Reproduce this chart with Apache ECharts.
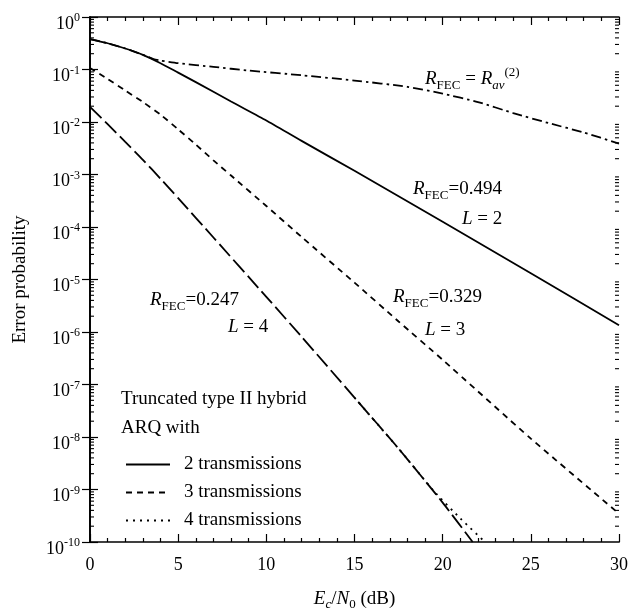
<!DOCTYPE html>
<html><head><meta charset="utf-8">
<script src="https://cdn.jsdelivr.net/npm/echarts@6/dist/echarts.min.js"></script>
<style>html,body{margin:0;padding:0;background:#fff}#c{width:630px;height:612px}</style>
</head><body><div id="c"></div>
<script>
// ---- data (y stored as log10 of error probability) ----
const xTickLabels = ['0','5','10','15','20','25','30'];
const yTickExponents = [0,-1,-2,-3,-4,-5,-6,-7,-8,-9,-10];

// 2 transmissions, R_FEC = 0.494, L = 2 (solid)
const solidX   = [0, 1, 2, 3, 4, 5, 6, 8, 10, 12, 15, 20, 25, 30];
const solidExp = [-0.42, -0.50, -0.60, -0.72, -0.88, -1.06, -1.24, -1.61, -1.97, -2.36, -2.93, -3.90, -4.88, -5.87];

// R_FEC = R_av(2) (dash-dot)
const avX   = [0, 1, 2, 3, 3.6, 4, 5, 7, 9, 12, 15, 18, 20, 22, 24, 26, 28, 30];
const avExp = [-0.42, -0.50, -0.60, -0.72, -0.80, -0.83, -0.88, -0.95, -1.02, -1.11, -1.21, -1.33, -1.46, -1.62, -1.83, -2.02, -2.20, -2.41];

// 3 transmissions, R_FEC = 0.329, L = 3 (dashed)
const dashX   = [0, 1, 2, 3, 4, 5, 6, 7, 8, 10, 12, 15, 17.5, 20, 25, 30];
const dashExp = [-0.97, -1.18, -1.40, -1.62, -1.86, -2.14, -2.43, -2.73, -3.02, -3.60, -4.19, -5.06, -5.80, -6.53, -8.03, -9.46];

// R_FEC = 0.247, L = 4 (long dash)
const longX   = [0, 1, 2, 3, 4, 5, 7, 10, 12, 15, 17.5, 20, 21.7];
const longExp = [-1.71, -2.04, -2.38, -2.72, -3.08, -3.45, -4.20, -5.33, -6.09, -7.25, -8.22, -9.25, -10.0];

// 4 transmissions (dotted, visible where it separates from the long dash)
const dotX   = [15, 17.5, 19.5, 21, 22.4];
const dotExp = [-7.25, -8.22, -9.03, -9.55, -10.0];

const F = 'Liberation Serif';
const toPts = (xs, es) => xs.map((x, i) => [x, Math.pow(10, es[i])]);

const yMinor = [];
for (let i = 1; i < yTickExponents.length; i++) {
  const e = yTickExponents[i];
  for (let m = 2; m <= 9; m++) yMinor.push([0, m * Math.pow(10, e)]);
}

const axisLine = {show: true, lineStyle: {color: '#000', width: 1.7}};
const tickStyle = {color: '#000', width: 1.2};
const richLab = {
  b: {fontFamily: F, fontSize: 18, color: '#000', lineHeight: 24},
  s: {fontFamily: F, fontSize: 12, color: '#000', verticalAlign: 'top'}
};
function yLab(v) {
  const e = Math.round(Math.log10(v));
  return '{b|10}{s|' + e + '}';
}
function mkY(pos, labels) {
  return {
    type: 'log', logBase: 10, min: 1e-10, max: 1, interval: 1, position: pos,
    axisLine: axisLine, splitLine: {show: false},
    axisTick: {show: true, inside: true, length: 8, lineStyle: tickStyle},
    axisLabel: {show: labels, formatter: yLab, rich: richLab, margin: 10, padding: [14, 0, 0, 0]}
  };
}
function mkX(pos, labels) {
  return {
    type: 'value', min: 0, max: 30, interval: 5, position: pos,
    axisLine: axisLine, splitLine: {show: false},
    axisTick: {show: true, inside: true, length: 8, lineStyle: tickStyle},
    minorTick: {show: true, splitNumber: 5, length: 4, lineStyle: tickStyle},
    axisLabel: {show: labels, fontFamily: F, fontSize: 18, color: '#000', margin: 14,
      formatter: v => xTickLabels[Math.round(v / 5)]}
  };
}
const xa0 = mkX('bottom', true);
xa0.name = '{i|E}{si|c}{n|/}{i|N}{s|0}{n| (dB)}';
xa0.nameLocation = 'middle';
xa0.nameGap = 45;
xa0.nameTextStyle = {rich: {
  i: {fontFamily: F, fontStyle: 'italic', fontSize: 19, color: '#000', lineHeight: 24},
  n: {fontFamily: F, fontSize: 19, color: '#000', lineHeight: 24},
  si: {fontFamily: F, fontStyle: 'italic', fontSize: 13, color: '#000', verticalAlign: 'bottom'},
  s: {fontFamily: F, fontSize: 13, color: '#000', verticalAlign: 'bottom'}
}};
const ya0 = mkY('left', true);
ya0.name = 'Error probability';
ya0.nameLocation = 'middle';
ya0.nameGap = 60;
ya0.nameTextStyle = {fontFamily: F, fontSize: 19, color: '#000'};

const rich = {
  i: {fontFamily: F, fontStyle: 'italic', fontSize: 19, color: '#000', lineHeight: 26},
  n: {fontFamily: F, fontSize: 19, color: '#000', lineHeight: 26},
  sub: {fontFamily: F, fontSize: 13, color: '#000', verticalAlign: 'bottom'},
  subi: {fontFamily: F, fontStyle: 'italic', fontSize: 13, color: '#000', verticalAlign: 'bottom'},
  sup: {fontFamily: F, fontSize: 13, color: '#000', verticalAlign: 'top'}
};
function txt(x, y, t) {
  return {type: 'text', x: x, y: y, style: {text: t, rich: rich, verticalAlign: 'middle', align: 'left'}};
}

const lineBase = (name, pts, type, z) => ({
  name: name, type: 'line', data: pts, showSymbol: false, symbol: 'none',
  smooth: 0.2, clip: true, z: z || 2, xAxisIndex: 0, yAxisIndex: 0,
  lineStyle: {color: '#000', width: 1.8, type: type}, itemStyle: {color: '#000'},
  emphasis: {disabled: true}
});

const chart = echarts.init(document.getElementById('c'));
chart.setOption({
  animation: false,
  backgroundColor: '#fff',
  grid: {left: 90, right: 11, top: 17, bottom: 70, containLabel: false, outerBoundsMode: 'none'},
  xAxis: [xa0, mkX('top', false)],
  yAxis: [ya0, mkY('right', false)],
  legend: {
    data: ['2 transmissions', '3 transmissions', '4 transmissions'],
    orient: 'vertical', left: 120, top: 450, itemWidth: 44, itemHeight: 14, itemGap: 9,
    selectedMode: false,
    itemStyle: {opacity: 0},
    textStyle: {fontFamily: F, fontSize: 19, color: '#000', padding: [0, 0, 0, 9]}
  },
  series: [
    lineBase('2 transmissions', toPts(solidX, solidExp), 'solid', 3),
    lineBase('Rav', toPts(avX, avExp), [10, 4, 2.5, 4]),
    lineBase('3 transmissions', toPts(dashX, dashExp), [6, 5]),
    lineBase('L4', toPts(longX, longExp), [16, 5]),
    lineBase('4 transmissions', toPts(dotX, dotExp), [2, 5]),
    {
      name: 'yMinorTicks', type: 'custom', data: yMinor, xAxisIndex: 0, yAxisIndex: 0,
      encode: {x: 0, y: 1}, silent: true, z: 5,
      renderItem: function (params, api) {
        const v = api.value(1);
        const pl = api.coord([0, v]);
        const pr = api.coord([30, v]);
        const st = {stroke: '#000', lineWidth: 1.1};
        return {type: 'group', children: [
          {type: 'line', shape: {x1: pl[0], y1: pl[1], x2: pl[0] + 4, y2: pl[1]}, style: st},
          {type: 'line', shape: {x1: pr[0] - 4, y1: pr[1], x2: pr[0], y2: pr[1]}, style: st}
        ]};
      }
    }
  ],
  graphic: [
    txt(425, 79, '{i|R}{sub|FEC}{n| = }{i|R}{subi|av}{sup|(2)}'),
    txt(413, 189, '{i|R}{sub|FEC}{n|=0.494}'),
    txt(462, 219, '{i|L}{n| = 2}'),
    txt(393, 297, '{i|R}{sub|FEC}{n|=0.329}'),
    txt(425, 330, '{i|L}{n| = 3}'),
    txt(150, 300, '{i|R}{sub|FEC}{n|=0.247}'),
    txt(228, 327, '{i|L}{n| = 4}'),
    txt(121, 399, '{n|Truncated type II hybrid}'),
    txt(121, 428, '{n|ARQ with}')
  ]
});
</script></body></html>
